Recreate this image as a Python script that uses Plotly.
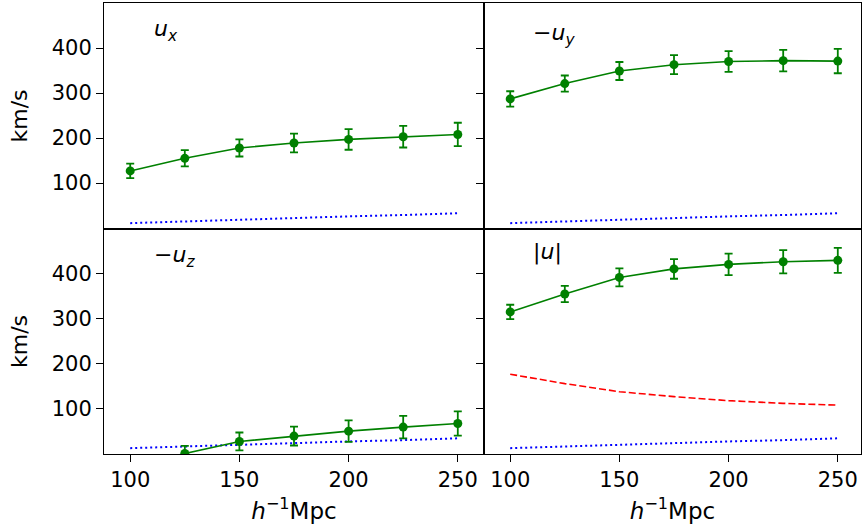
import plotly.graph_objects as go

# ---- data ----
r = [100, 125, 150, 175, 200, 225, 250]
ux = [127, 155, 178, 189, 197, 203, 208]
ux_err = [16, 18, 19, 21, 23, 24, 26]
muy = [287, 321, 349, 363, 370, 372, 371]
muy_err = [17, 18, 20, 21, 23, 24, 27]
muz = [-30, -1, 26, 38, 49, 58, 66]
muz_err = [16, 17, 20, 21, 24, 25, 27]
umag = [315, 355, 392, 411, 421, 427, 430]
umag_err = [16, 18, 20, 22, 24, 26, 28]
noise = [11, 15, 19, 22, 26, 29, 33]
expected = [176, 155, 137, 126, 117, 111, 107]

panel_labels = ["<i>u</i><sub><i>x</i></sub>",
                "\u2212<i>u</i><sub><i>y</i></sub>",
                "\u2212<i>u</i><sub><i>z</i></sub>",
                "|<i>u</i>|"]
yticks = [100, 200, 300, 400]
xticks = [100, 150, 200, 250]

FONT = "DejaVu Sans"
GREEN = "green"

fig = go.Figure()

# axis ids: top-left (x3,y3), top-right (x4,y4), bottom-left (x,y), bottom-right (x2,y2)
panels = [
    ("x3", "y3", ux, ux_err),
    ("x4", "y4", muy, muy_err),
    ("x", "y", muz, muz_err),
    ("x2", "y2", umag, umag_err),
]

for xa, ya, vals, errs in panels:
    fig.add_trace(go.Scatter(
        x=r, y=noise, xaxis=xa, yaxis=ya, mode="lines",
        line=dict(color="blue", width=2, dash="2px,3px"),
        showlegend=False, hoverinfo="skip"))
    if xa == "x2":
        fig.add_trace(go.Scatter(
            x=r, y=expected, xaxis=xa, yaxis=ya, mode="lines",
            line=dict(color="red", width=1.6, dash="7px,3px"),
            showlegend=False, hoverinfo="skip"))
    fig.add_trace(go.Scatter(
        x=r, y=vals, xaxis=xa, yaxis=ya, mode="lines+markers",
        line=dict(color=GREEN, width=1.6),
        marker=dict(color=GREEN, size=9),
        error_y=dict(type="data", array=errs, color=GREEN, thickness=1.8, width=4),
        cliponaxis=True, showlegend=False))

split_x = 380 / 757
split_y = 225 / 451

TICKFONT = dict(family=FONT, size=21, color="black")
common_x = dict(range=[88, 262], showline=True, linecolor="black", linewidth=1.1,
                mirror=True, showgrid=False, zeroline=False, automargin=False,
                tickfont=TICKFONT)
common_y = dict(range=[-2, 500], showline=True, linecolor="black", linewidth=1.1,
                mirror=True, showgrid=False, zeroline=False, automargin=False,
                tickvals=yticks, ticks="outside", ticklen=7, tickwidth=1.2,
                tickcolor="black", tickfont=TICKFONT)

xtitle = dict(text="<i>h</i><sup>\u22121</sup>Mpc",
              font=dict(family=FONT, size=23, color="black"), standoff=13)
ytitle = dict(text="km/s", font=dict(family=FONT, size=22, color="black"), standoff=17)

right_range = [88, 88 + 377 / (380 / 174)]

fig.update_layout(
    width=862, height=524,
    margin=dict(l=104, r=1, t=3, b=70),
    paper_bgcolor="white", plot_bgcolor="white",
    xaxis=dict(common_x, domain=[0, split_x], anchor="y", tickvals=xticks,
               ticks="outside", ticklen=7, tickwidth=1.2, tickcolor="black", title=xtitle),
    xaxis2=dict(common_x, domain=[split_x, 1], anchor="y2", tickvals=xticks,
                range=right_range,
                ticks="outside", ticklen=7, tickwidth=1.2, tickcolor="black", title=xtitle),
    xaxis3=dict(common_x, domain=[0, split_x], anchor="y3", showticklabels=False, ticks=""),
    xaxis4=dict(common_x, domain=[split_x, 1], anchor="y4", showticklabels=False, ticks="",
                range=right_range),
    yaxis=dict(common_y, domain=[0, split_y], anchor="x", title=ytitle),
    yaxis2=dict(common_y, domain=[0, split_y], anchor="x2", showticklabels=False),
    yaxis3=dict(common_y, domain=[split_y, 1], anchor="x3", title=ytitle),
    yaxis4=dict(common_y, domain=[split_y, 1], anchor="x4", showticklabels=False),
)

label_pos = [("x3", "y3", 0.88), ("x4", "y4", 0.86), ("x", "y", 0.88), ("x2", "y2", 0.90)]
for (xa, ya, yy), txt in zip(label_pos, panel_labels):
    fig.add_annotation(
        x=0.125, y=yy, xref=f"{xa} domain", yref=f"{ya} domain",
        text=txt, showarrow=False, xanchor="left", yanchor="middle",
        font=dict(family=FONT, size=22, color="black"))

fig.write_html("out.html", config={"displayModeBar": False},
               post_script="document.body.style.margin='0';document.body.style.overflow='hidden';")
